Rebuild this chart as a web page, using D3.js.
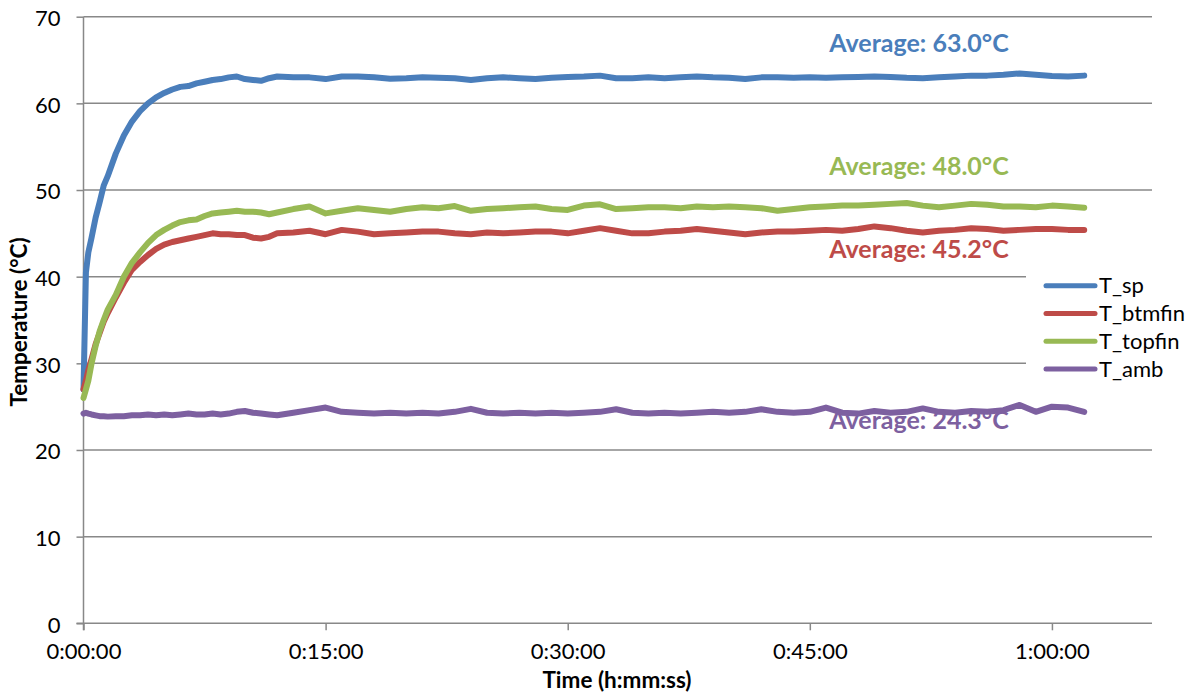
<!DOCTYPE html>
<html>
<head>
<meta charset="utf-8">
<script src="https://cdn.jsdelivr.net/npm/d3@7/dist/d3.min.js"></script>
<style>
  html, body { margin: 0; padding: 0; background: #fff; }
  svg { display: block; font-family: Lato, "Open Sans", sans-serif; }
</style>
</head>
<body>
<svg id="chart" width="1197" height="693"></svg>
<script>
// ---- data (time in minutes, temperature in °C) ----
const times = [0, 0.15, 0.3, 0.5, 0.75, 1, 1.25, 1.5, 2, 2.5, 3, 3.5, 4, 4.5, 5, 5.5, 6, 6.5, 7, 7.5, 8, 8.5, 9, 9.5, 10, 10.5, 11, 11.5, 12,
  13, 14, 15, 16, 17, 18, 19, 20, 21, 22, 23, 24, 25, 26, 27, 28, 29, 30, 31, 32, 33, 34, 35, 36, 37, 38, 39, 40,
  41, 42, 43, 44, 45, 46, 47, 48, 49, 50, 51, 52, 53, 54, 55, 56, 57, 58, 59, 60, 61, 62];

const T_sp = [27.0, 40.5, 42.8, 44.5, 46.8, 48.6, 50.5, 51.6, 54.2, 56.3, 57.9, 59.1, 60.0, 60.7, 61.2, 61.6, 61.9, 62.0, 62.3, 62.5, 62.7, 62.8, 63.0, 63.1, 62.8, 62.7, 62.6, 62.9, 63.1,
  63.0, 63.0, 62.8, 63.1, 63.1, 63.0, 62.85, 62.9, 63.0, 62.95, 62.9, 62.7, 62.9, 63.0, 62.9, 62.8, 62.95, 63.05, 63.1, 63.2, 62.9, 62.9, 63.0, 62.9, 63.0, 63.1, 63.0, 62.95,
  62.8, 63.0, 63.0, 62.95, 63.0, 62.95, 63.0, 63.05, 63.1, 63.05, 62.95, 62.9, 63.0, 63.1, 63.2, 63.2, 63.3, 63.45, 63.3, 63.15, 63.1, 63.2];

const T_btmfin = [27.0, 28.0, 29.2, 30.5, 32.2, 33.5, 34.8, 35.8, 37.6, 39.3, 40.8, 41.7, 42.5, 43.2, 43.7, 44.0, 44.2, 44.4, 44.6, 44.8, 45.0, 44.9, 44.9, 44.8, 44.8, 44.5, 44.4, 44.6, 45.0,
  45.1, 45.3, 44.9, 45.4, 45.2, 44.9, 45.0, 45.1, 45.2, 45.2, 45.0, 44.9, 45.1, 45.0, 45.1, 45.2, 45.2, 45.0, 45.3, 45.6, 45.3, 45.0, 45.0, 45.2, 45.3, 45.5, 45.3, 45.1,
  44.9, 45.1, 45.2, 45.2, 45.3, 45.4, 45.3, 45.5, 45.8, 45.6, 45.3, 45.1, 45.3, 45.4, 45.6, 45.5, 45.3, 45.4, 45.5, 45.5, 45.4, 45.4];

const T_topfin = [26.0, 27.0, 28.0, 30.0, 32.0, 33.7, 35.0, 36.2, 37.9, 40.0, 41.6, 42.8, 43.9, 44.8, 45.4, 45.9, 46.3, 46.5, 46.6, 47.0, 47.3, 47.4, 47.5, 47.6, 47.5, 47.5, 47.4, 47.2, 47.4,
  47.8, 48.1, 47.3, 47.6, 47.9, 47.7, 47.5, 47.8, 48.0, 47.9, 48.15, 47.6, 47.8, 47.9, 48.0, 48.1, 47.8, 47.7, 48.2, 48.35, 47.8, 47.9, 48.0, 48.0, 47.9, 48.1, 48.0, 48.1,
  48.0, 47.9, 47.6, 47.8, 48.0, 48.1, 48.2, 48.2, 48.3, 48.4, 48.5, 48.2, 48.0, 48.2, 48.4, 48.3, 48.1, 48.1, 48.0, 48.2, 48.1, 47.95];

const T_amb = [24.2, 24.3, 24.2, 24.1, 24.0, 23.9, 23.9, 23.85, 23.9, 23.9, 24.0, 24.0, 24.1, 24.0, 24.1, 24.0, 24.1, 24.2, 24.1, 24.1, 24.2, 24.1, 24.2, 24.4, 24.5, 24.3, 24.2, 24.1, 24.0,
  24.3, 24.6, 24.9, 24.4, 24.3, 24.2, 24.3, 24.2, 24.3, 24.2, 24.4, 24.75, 24.3, 24.2, 24.3, 24.2, 24.3, 24.2, 24.3, 24.4, 24.7, 24.3, 24.2, 24.3, 24.2, 24.3, 24.4, 24.3,
  24.4, 24.7, 24.4, 24.3, 24.4, 24.9, 24.3, 24.2, 24.5, 24.3, 24.4, 24.8, 24.4, 24.3, 24.5, 24.4, 24.6, 25.2, 24.4, 25.0, 24.9, 24.4];

const seriesNames = ["T_sp", "T_btmfin", "T_topfin", "T_amb"];
const seriesValues = [T_sp, T_btmfin, T_topfin, T_amb];
const seriesColors = ["#4a7ebb", "#be4b48", "#98b954", "#7d60a0"];

const averageLabels = ["Average: 63.0°C", "Average: 45.2°C", "Average: 48.0°C", "Average: 24.3°C"];
const averageLabelY = [51.5, 258, 175, 429]; // baseline positions (layout)

const yTicks = [0, 10, 20, 30, 40, 50, 60, 70];
const xTickMinutes = [0, 15, 30, 45, 60];
const xTickLabels = ["0:00:00", "0:15:00", "0:30:00", "0:45:00", "1:00:00"];

// ---- layout ----
const svg = d3.select("#chart");
const pLeft = 83.5, pRight = 1152, pTop = 16.7, pBottom = 623.3;
const x = d3.scaleLinear().domain([0, 66.2]).range([pLeft, pRight]);
const y = d3.scaleLinear().domain([0, 70]).range([pBottom, pTop]);
const gridColor = "#888888";

// gridlines
svg.append("g").selectAll("line").data(yTicks.filter(d => d > 0)).join("line")
  .attr("x1", pLeft).attr("x2", pRight)
  .attr("y1", d => y(d)).attr("y2", d => y(d))
  .attr("stroke", gridColor).attr("stroke-width", 1.5);

// y axis
const yAxis = d3.axisLeft(y).tickValues(yTicks).tickSize(7).tickPadding(16);
const gy = svg.append("g").attr("transform", `translate(${pLeft},0)`).call(yAxis);
gy.select(".domain").attr("stroke", gridColor).attr("stroke-width", 1.5)
  .attr("d", `M0,${pTop}V${pBottom + 7}`);
gy.selectAll(".tick line").attr("stroke", gridColor).attr("stroke-width", 1.5);
gy.selectAll(".tick text").attr("font-size", 22).attr("fill", "#000")
  .attr("font-family", "Lato, sans-serif").attr("dy", "0.4em");

// x axis
const xAxis = d3.axisBottom(x).tickValues(xTickMinutes)
  .tickFormat((d, i) => xTickLabels[i]).tickSize(7).tickPadding(13);
const gx = svg.append("g").attr("transform", `translate(0,${pBottom})`).call(xAxis);
gx.select(".domain").attr("stroke", gridColor).attr("stroke-width", 1.5)
  .attr("d", `M${pLeft - 7},0H${pRight}`);
gx.selectAll(".tick line").attr("stroke", gridColor).attr("stroke-width", 1.5);
gx.selectAll(".tick text").attr("font-size", 22).attr("fill", "#000")
  .attr("font-family", "Lato, sans-serif");

// axis titles
svg.append("text").attr("transform", "translate(27,322) rotate(-90)")
  .attr("text-anchor", "middle").attr("font-size", 22.5).attr("font-weight", "bold")
  .text("Temperature (°C)");
svg.append("text").attr("x", 617).attr("y", 688)
  .attr("text-anchor", "middle").attr("font-size", 22.5).attr("font-weight", "bold")
  .text("Time (h:mm:ss)");

// average labels (under lines)
svg.append("g").selectAll("text").data(averageLabels).join("text")
  .attr("x", 919).attr("y", (d, i) => averageLabelY[i])
  .attr("text-anchor", "middle").attr("font-size", 25).attr("font-weight", "bold")
  .attr("fill", (d, i) => seriesColors[i]).text(d => d);

// lines
const line = d3.line().x(d => x(d[0])).y(d => y(d[1])).curve(d3.curveLinear);
const drawOrder = [0, 1, 2, 3];
svg.append("g").selectAll("path").data(drawOrder).join("path")
  .attr("d", i => line(times.map((t, k) => [t, seriesValues[i][k]])))
  .attr("fill", "none").attr("stroke", i => seriesColors[i])
  .attr("stroke-width", 6).attr("stroke-linejoin", "round").attr("stroke-linecap", "round");

// legend
const lg = svg.append("g");
lg.append("rect").attr("x", 1026).attr("y", 268).attr("width", 130).attr("height", 114).attr("fill", "#fff");
const items = lg.selectAll("g.item").data(seriesNames).join("g").attr("class", "item")
  .attr("transform", (d, i) => `translate(0,${285.7 + i * 27.8})`);
items.append("line").attr("x1", 1046).attr("x2", 1095).attr("y1", 0).attr("y2", 0)
  .attr("stroke", (d, i) => seriesColors[i]).attr("stroke-width", 5).attr("stroke-linecap", "round");
items.append("text").attr("x", 1099).attr("y", 7.5).attr("font-size", 22).attr("fill", "#000").text(d => d);
</script>
</body>
</html>
